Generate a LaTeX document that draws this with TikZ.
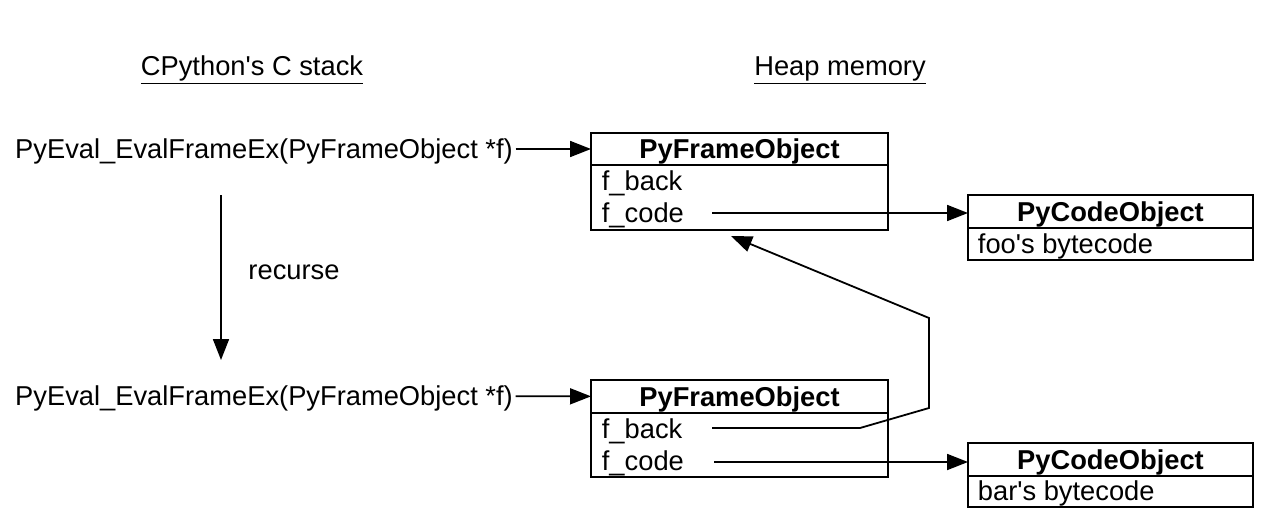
\documentclass[tikz,border=0pt]{standalone}
\usepackage{fontspec}
\setmainfont{Liberation Sans}
\usetikzlibrary{arrows.meta,positioning}

\begin{document}
\begin{tikzpicture}[x=1pt,y=1pt,line width=1.8pt,
  every node/.style={font=\fontsize{27.3}{32}\selectfont, inner sep=2pt, text height=19.5pt, text depth=0pt},
  head/.style={rectangle, draw, outer sep=0pt, inner sep=0pt, minimum height=33pt, font=\fontsize{27.3}{32}\selectfont\bfseries},
  body/.style={rectangle, draw, outer sep=0pt, inner sep=0pt, text height=, text depth=},
  field/.style={anchor=west, inner sep=0pt},
  ptr/.style={-{Triangle[length=21pt,width=16pt]}}]
\useasboundingbox (0,0) rectangle (1287,-522);

\node (stacktitle) at (252,-66) {\underline{CPython\textquotesingle s C stack}};
\node (heaptitle) at (840,-66) {\underline{Heap memory}};

% C stack
\node (callA) at (264,-149) {PyEval\_EvalFrameEx(PyFrameObject *f)};
\node (callB) at (264,-396) {PyEval\_EvalFrameEx(PyFrameObject *f)};
\coordinate (recursetop) at (221,-195);
\coordinate (recursebot) at (221,-360);
\draw[ptr] (recursetop) -- (recursebot);
\node (recurse) at (294,-270) {recurse};

% heap: frames
\node[head, minimum width=297pt, minimum height=32pt] (frameA) at (739.5,-149) {PyFrameObject};
\node[body, minimum width=297pt, minimum height=65pt, below=0pt of frameA] (frameAbody) {};
\node[field] (frameAback) at (601,-181) {f\_back};
\node[field] (frameAcode) at (601,-213) {f\_code};

\node[head, minimum width=297pt] (frameB) at (739.5,-396.5) {PyFrameObject};
\node[body, minimum width=297pt, minimum height=64pt, below=0pt of frameB] (frameBbody) {};
\node[field] (frameBback) at (601,-429) {f\_back};
\node[field] (frameBcode) at (601,-461) {f\_code};

% heap: code objects
\node[head, minimum width=285pt] (codeA) at (1110.5,-211.5) {PyCodeObject};
\node[body, minimum width=285pt, minimum height=32pt, below=0pt of codeA] (codeAbody) {};
\node[field] (codeAtext) at (977,-244) {foo\textquotesingle s bytecode};

\node[head, minimum width=285pt] (codeB) at (1110.5,-459.5) {PyCodeObject};
\node[body, minimum width=285pt, minimum height=31pt, below=0pt of codeB] (codeBbody) {};
\node[field] (codeBtext) at (977,-491) {bar\textquotesingle s bytecode};

\draw[ptr] (callA) -- (frameA);
\draw[ptr] (callB) -- (frameB);

\coordinate (ptrAcode) at (712,-213);
\coordinate (ptrBcode) at (714,-462);
\coordinate (ptrBback) at (712,-428);
\coordinate (backtip) at (731,-236);
\draw[ptr] (ptrAcode) -- (ptrAcode -| codeA.west);
\draw[ptr] (ptrBcode) -- (ptrBcode -| codeB.west);
\draw[ptr] (ptrBback) -- (860,-428) -- (929,-408) -- (929,-318) -- (backtip);
\end{tikzpicture}
\end{document}
